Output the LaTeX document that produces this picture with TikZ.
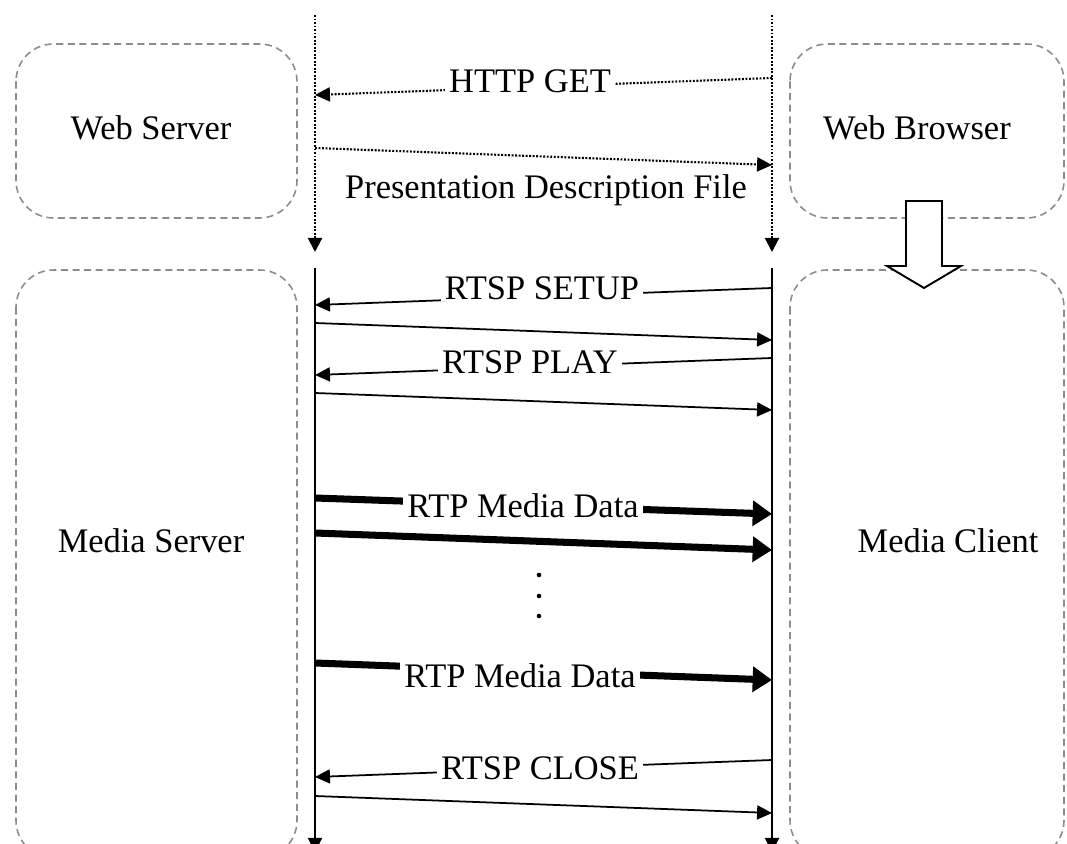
\documentclass[tikz,border=0pt]{standalone}
\usepackage{fontspec}
\setmainfont{Liberation Serif}
\usetikzlibrary{arrows.meta}
\begin{document}
\begin{tikzpicture}[x=0.02cm,y=-0.02cm,
 box/.style={draw=black!45, dash pattern=on 4pt off 2.6pt, line width=0.9pt, rounded corners=0.75cm},
 lbl/.style={font=\fontsize{19.6}{22}\selectfont, text=black, inner sep=0pt},
 onl/.style={lbl, fill=white, inner xsep=2.5pt, inner ysep=1pt, anchor=base},
 life/.style={line width=1.1pt, -{Triangle[length=8pt,width=8pt]}},
 dlife/.style={line width=1.2pt, dash pattern=on 1.1pt off 0.9pt, -{Triangle[length=8pt,width=8pt]}},
 msg/.style={line width=1pt, -{Triangle[length=8.5pt,width=8pt]}},
 dmsg/.style={line width=1.2pt, dash pattern=on 1.1pt off 0.9pt, -{Triangle[length=8.5pt,width=8pt]}},
 data/.style={line width=4pt, -{Triangle[length=11pt,width=14pt]}},
 hollow/.style={draw=black, line width=1.1pt, fill=white, line join=miter},
]
\useasboundingbox (0,0) rectangle (1067,844);
\clip (0,0) rectangle (1067,844);

% boxes
\draw[box] (16,44) rectangle (297,218);
\draw[box] (790,44) rectangle (1064,218);
\draw[box] (16,270) rectangle (297,858);
\draw[box] (790,270) rectangle (1064,858);
\node[lbl, anchor=base] (ws) at (151,140) {Web Server};
\node[lbl, anchor=base] (wb) at (917,140) {Web Browser};
\node[lbl, anchor=base] (ms) at (151,552) {Media Server};
\node[lbl, anchor=base] (mc) at (948,552) {Media Client};

% lifelines
\coordinate (Lt) at (315,15);  \coordinate (Lb) at (315,252);
\coordinate (Rt) at (772,15);  \coordinate (Rb) at (772,252);
\coordinate (Lt2) at (315,268); \coordinate (Lb2) at (315,852);
\coordinate (Rt2) at (772,268); \coordinate (Rb2) at (772,852);
\draw[dlife] (Lt) -- (Lb);
\draw[dlife] (Rt) -- (Rb);
\draw[life] (Lt2) -- (Lb2);
\draw[life] (Rt2) -- (Rb2);

% message end points
\coordinate (r1) at (772,78);  \coordinate (l1) at (315,95);
\coordinate (l2) at (315,148); \coordinate (r2) at (772,165);
\coordinate (r3) at (772,288); \coordinate (l3) at (315,305);
\coordinate (l4) at (315,323); \coordinate (r4) at (772,340);
\coordinate (r5) at (772,358); \coordinate (l5) at (315,375);
\coordinate (l6) at (315,393); \coordinate (r6) at (772,410);
\coordinate (l7) at (315,498); \coordinate (r7) at (772,514);
\coordinate (l8) at (315,533); \coordinate (r8) at (772,550);
\coordinate (l9) at (315,663); \coordinate (r9) at (772,680);
\coordinate (r10) at (772,760); \coordinate (l10) at (315,777);
\coordinate (l11) at (315,796); \coordinate (r11) at (772,813);

% messages
\draw[dmsg] (r1) -- (l1);
\node[onl] (t1) at (530,93) {HTTP GET};
\draw[dmsg] (l2) -- (r2);
\node[lbl, anchor=base] (t2) at (546,199) {Presentation Description File};

\draw[msg] (r3) -- (l3);
\node[onl] (t3) at (542,299) {RTSP SETUP};
\draw[msg] (l4) -- (r4);
\draw[msg] (r5) -- (l5);
\node[onl] (t5) at (530,373) {RTSP PLAY\hspace{5pt}};
\draw[msg] (l6) -- (r6);

\draw[data] (l7) -- (r7);
\node[onl] (t7) at (523,517) {RTP Media Data};
\draw[data] (l8) -- (r8);
\fill (539,575) circle[radius=2.3] (539,596) circle[radius=2.3] (539,616) circle[radius=2.3];
\draw[data] (l9) -- (r9);
\node[onl] (t9) at (520,687) {RTP Media Data};

\draw[msg] (r10) -- (l10);
\node[onl] (t10) at (540,779) {RTSP CLOSE};
\draw[msg] (l11) -- (r11);

% hollow arrow from browser to client
\draw[hollow] (906,201) -- (942,201) -- (942,266) -- (961,266) -- (924,288) -- (887,266) -- (906,266) -- cycle;
\end{tikzpicture}
\end{document}
